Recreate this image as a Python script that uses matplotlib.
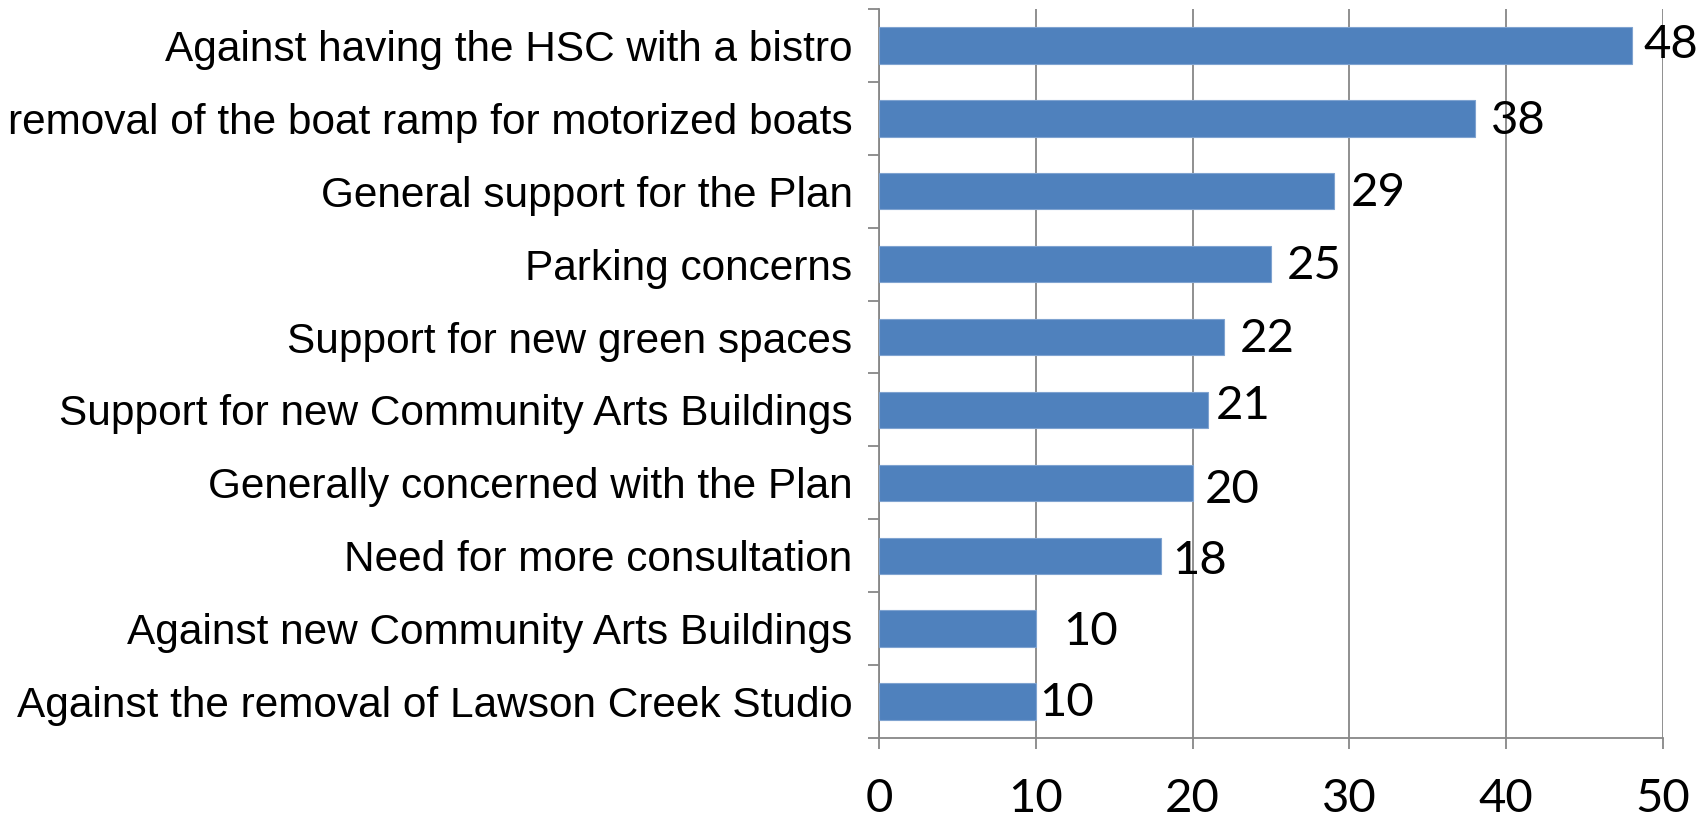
import matplotlib
matplotlib.use("Agg")
import matplotlib.pyplot as plt
from matplotlib.ticker import FixedLocator

categories = [
    "Against having the HSC with a bistro",
    "removal of the boat ramp for motorized boats",
    "General support for the Plan",
    "Parking concerns",
    "Support for new green spaces",
    "Support for new Community Arts Buildings",
    "Generally concerned with the Plan",
    "Need for more consultation",
    "Against new Community Arts Buildings",
    "Against the removal of Lawson Creek Studio",
]
values = [48, 38, 29, 25, 22, 21, 20, 18, 10, 10]
xticks = [0, 10, 20, 30, 40, 50]

# label nudges (pixels) relative to bar end / bar centre
label_dx = [12, 16, 17, 16, 16, 7, 12, 11, 27, 3]
label_dy = [0, -3, -2, -2, -2, 4, -7, -5, -3, -1]

DPI = 100
fig = plt.figure(figsize=(17.01, 8.22), dpi=DPI)
ax = fig.add_axes([879/1701, 1 - 738/822, (1663-879)/1701, (738-9)/822])

n = len(categories)
ypos = list(range(n))[::-1]
grid_c = "#878787"

ax.set_axisbelow(True)
ax.grid(axis="x", color=grid_c, linewidth=1.3)
ax.barh(ypos, values, height=0.5, color="#4F81BD", edgecolor="#7FA3D0", linewidth=0.8, zorder=3)

ax.set_xlim(0, 50)
ax.set_ylim(-0.5, n - 0.5)
ax.set_xticks(xticks)
ax.set_xticklabels([str(t) for t in xticks], fontfamily="Lato", fontsize=34)
ax.set_yticks(ypos)
ax.set_yticklabels(categories, fontfamily="Liberation Sans", fontsize=30.5)
ax.yaxis.set_minor_locator(FixedLocator([i - 0.5 for i in range(n + 1)]))
ax.tick_params(axis="y", which="major", length=0, pad=19)
ax.tick_params(axis="y", which="minor", length=8, width=1.3, color=grid_c, direction="out")
ax.tick_params(axis="x", which="major", length=8, width=1.3, color=grid_c, direction="out", pad=21)

for s in ["top", "right"]:
    ax.spines[s].set_visible(False)
for s in ["left", "bottom"]:
    ax.spines[s].set_color(grid_c)
    ax.spines[s].set_linewidth(1.3)

for y, v, dx, dy in zip(ypos, values, label_dx, label_dy):
    ax.annotate(str(v), xy=(v, y), xytext=(dx, dy), textcoords="offset pixels",
                ha="left", va="center", fontfamily="Lato", fontsize=34, zorder=5,
                annotation_clip=False)

fig.savefig("out.png", dpi=DPI)
